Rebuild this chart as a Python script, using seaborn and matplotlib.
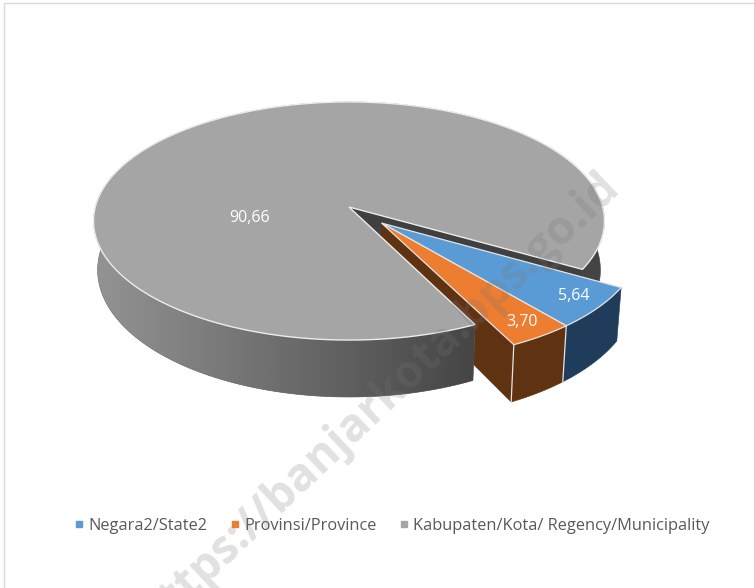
import numpy as np
import matplotlib
matplotlib.use("Agg")
import matplotlib.pyplot as plt
from matplotlib.colors import LinearSegmentedColormap
from matplotlib.lines import Line2D
from matplotlib.patches import Polygon
import seaborn as sns

categories = ["Negara2/State2", "Provinsi/Province", "Kabupaten/Kota/ Regency/Municipality"]
values = [5.64, 3.70, 90.66]
value_labels = ["5,64", "3,70", "90,66"]
label_pos = [(574, 296), (522, 322), (250, 218)]
watermark = "https://banjarkota.bps.go.id"

sns.set_theme(style="white")
plt.rcParams['font.family'] = ['Open Sans', 'DejaVu Sans']

palette = sns.color_palette(["#5b9bd5", "#ed7d31", "#a5a5a5"])
side_colors = ["#1f3d5a", "#5f3212", "#444444"]

# camera of the fake 3d pie, in pixels
CX, CY = 349, 207
RX, KY, PERSP = 253.7, 117.4, 0.1176
START = 30.0
EXPLODE = 0.185


def top(x, y):
    w = 1 + PERSP * y
    return CX + RX * x / w, CY - KY * y / w


def bottom(x, y):
    sx, sy = top(x, y)
    return CX + (sx - CX) * 0.984, sy + 34.2 + 0.067 * sy


def rim(a, off=0.0):
    # a is clockwise from east, in degrees
    t = np.radians(a)
    return np.cos(t) + off * np.cos(np.radians(MID)), -np.sin(t) - off * np.sin(np.radians(MID))


def side_poly(a0, a1, off=0.0):
    aa = np.linspace(a0, a1, 200)
    x, y = rim(aa, off)
    up = np.column_stack(top(x, y))
    low = np.column_stack(bottom(x, y))
    return np.vstack([up, low[::-1]])


def top_poly(a0, a1, off=0.0):
    aa = np.linspace(a0, a1, 400)
    x, y = rim(aa, off)
    ox, oy = off * np.cos(np.radians(MID)), -off * np.sin(np.radians(MID))
    return np.column_stack(top(np.r_[ox, x], np.r_[oy, y]))


def wall_poly(a, off=0.0):
    x, y = rim(a, off)
    ox, oy = off * np.cos(np.radians(MID)), -off * np.sin(np.radians(MID))
    xs = np.array([ox, x])
    ys = np.array([oy, y])
    return np.vstack([np.column_stack(top(xs, ys)), np.column_stack(bottom(xs, ys))[::-1]])


edges = START + np.r_[0, np.cumsum(values)] * 3.6
MID = (edges[0] + edges[2]) / 2

fig = plt.figure(figsize=(7.54, 5.88), dpi=100)
ax = fig.add_axes([0, 0, 1, 1])
ax.axis('off')

# page frame
ax.plot([3.5, 3.5, 754], [588, 2.5, 2.5], color="#d9d9d9", lw=1, zorder=1)


def add(poly, fc, ec=None, lw=0.0, z=2):
    p = Polygon(poly, closed=True, facecolor=fc, edgecolor=ec if ec else fc, lw=lw if ec else 0.4, zorder=z)
    ax.add_patch(p)
    return p


# far part of the big slice: wall and rim behind the exploded wedge
add(side_poly(350, edges[3]), side_colors[2], z=2)
add(wall_poly(edges[3]), "#404040", z=2)

# exploded wedge
add(wall_poly(edges[2], EXPLODE), side_colors[1], z=3)
add(side_poly(edges[1], edges[2], EXPLODE), side_colors[1], z=3)
add(side_poly(edges[0], edges[1], EXPLODE), side_colors[0], z=3)
add(top_poly(edges[0], edges[1], EXPLODE), palette[0], "#e4e4e4", 0.9, z=4)
add(top_poly(edges[1], edges[2], EXPLODE), palette[1], "#e4e4e4", 0.9, z=4)
for a in edges[1:3]:
    x, y = rim(a, EXPLODE)
    ax.plot([top(x, y)[0], bottom(x, y)[0]], [top(x, y)[1], bottom(x, y)[1]],
            color="#e4e4e4", lw=0.9, zorder=5)

# rim of the big slice, shaded from the left edge to the cut
rim_patch = add(side_poly(edges[2], 350), "#666666", z=6)
shade = LinearSegmentedColormap.from_list("shade", ["#949494", "#444444"])
grad = ax.imshow(np.linspace(0, 1, 256)[None, :], cmap=shade, extent=(92, 480, 420, 200),
                 aspect='auto', zorder=6.5, interpolation='bilinear')
grad.set_clip_path(rim_patch)

add(top_poly(edges[2], edges[3]), palette[2], "#ececec", 1.0, z=7)

ax.set_xlim(0, 754)
ax.set_ylim(588, 0)

for txt, (lx, ly) in zip(value_labels, label_pos):
    ax.text(lx, ly, txt, color="white", fontsize=11.5, ha='center', va='center', zorder=9)

handles = [Line2D([], [], marker='s', ls='none', ms=5, color=c) for c in palette]
ax.legend(handles, categories, ncol=3, frameon=False, loc='center',
          bbox_to_anchor=(392 / 754, 1 - 525.5 / 588), fontsize=11.75, labelcolor="#595959",
          handlelength=0.6, handletextpad=0.25, columnspacing=1.4, borderpad=0)

ax.text(612, 180, watermark, rotation=43.5, rotation_mode='anchor', ha='right', va='center',
        fontsize=33, fontweight='bold', color="#767676", alpha=0.22, zorder=20)

fig.savefig("out.png", dpi=100)
